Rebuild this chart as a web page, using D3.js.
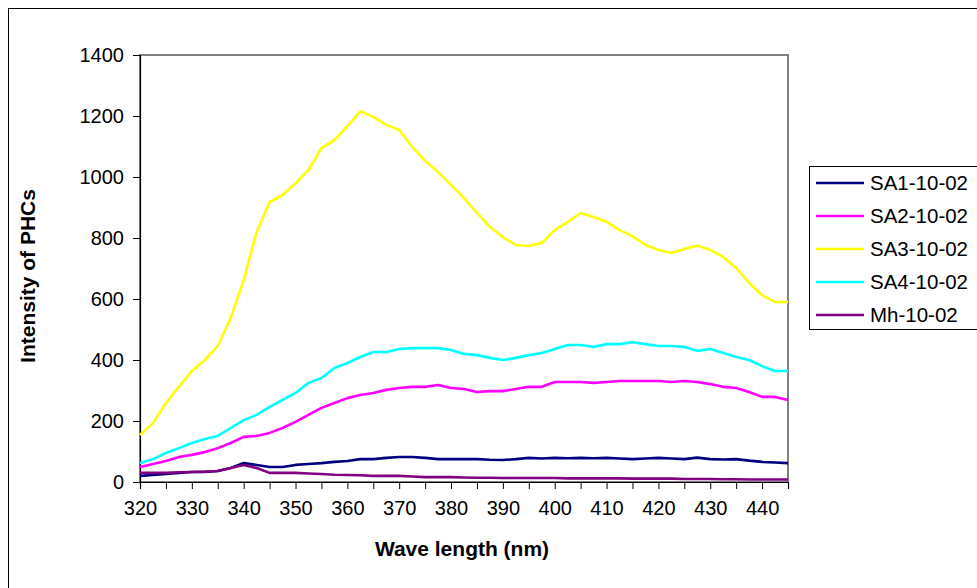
<!DOCTYPE html>
<html><head><meta charset="utf-8">
<script src="https://cdn.jsdelivr.net/npm/d3@7/dist/d3.min.js"></script>
<style>
html,body{margin:0;padding:0;background:#fff;}
svg{display:block;font-family:Arial,"Liberation Sans",sans-serif;}
</style></head>
<body><svg id="c" width="977" height="588"></svg>
<script>
const wavelengths = [320,322.5,325,327.5,330,332.5,335,337.5,340,342.5,345,347.5,350,352.5,355,357.5,360,362.5,365,367.5,370,372.5,375,377.5,380,382.5,385,387.5,390,392.5,395,397.5,400,402.5,405,407.5,410,412.5,415,417.5,420,422.5,425,427.5,430,432.5,435,437.5,440,442.5,445];
const sa1 = [20,23,26,30,33,33,36,46,62,56,49,49,56,59,62,66,69,75,75,79,82,82,79,75,75,75,75,73,72,75,79,77,79,78,79,78,79,77,75,77,79,77,75,80,75,74,75,70,66,64,62];
const sa2 = [49,59,69,82,89,98,111,128,148,151,161,177,197,220,243,259,275,285,292,302,308,312,312,318,308,305,295,298,298,305,312,312,328,328,328,325,328,331,331,331,331,328,331,328,321,312,308,295,279,279,269];
const sa3 = [154,193,259,312,364,400,446,538,662,820,918,941,980,1023,1095,1121,1167,1215,1197,1171,1154,1099,1053,1016,974,931,882,836,803,777,774,784,826,853,882,869,853,826,806,777,761,751,764,775,761,738,702,653,613,590,590];
const sa4 = [62,75,95,111,128,141,151,177,203,220,246,269,292,325,341,374,390,410,426,426,436,439,439,439,433,420,416,407,400,407,416,423,436,449,449,443,452,452,458,452,446,446,443,430,436,423,410,400,380,364,364];
const mh  = [30,30,30,32,33,34,36,46,56,46,30,30,30,28,26,24,23,22,20,20,20,18,16,16,16,15,14,14,13,13,13,13,13,12,12,12,12,12,11,11,11,11,10,10,10,9,9,8,8,8,8];
const seriesNames = ["SA1-10-02","SA2-10-02","SA3-10-02","SA4-10-02","Mh-10-02"];
const seriesColors = ["#000080","#FF00FF","#FFFF00","#00FFFF","#800080"];
const seriesValues = [sa1,sa2,sa3,sa4,mh];
const yTicks = [0,200,400,600,800,1000,1200,1400];
const xTickValues = [320,325,330,335,340,345,350,355,360,365,370,375,380,385,390,395,400,405,410,415,420,425,430,435,440,445];
const xLabelValues = [320,330,340,350,360,370,380,390,400,410,420,430,440];

const svg = d3.select("#c");
const L=140, R=788, T=55, B=482;
const x = d3.scaleLinear().domain([320,445]).range([L,R]);
const y = d3.scaleLinear().domain([0,1400]).range([B,T]);

// outer chart border
svg.append("rect").attr("x",8.5).attr("y",8.5).attr("width",1000).attr("height",1000)
  .attr("fill","none").attr("stroke","#000").attr("stroke-width",1);

// plot area border
svg.append("rect").attr("x",L).attr("y",T).attr("width",R-L).attr("height",B-T)
  .attr("fill","none").attr("stroke","#808080").attr("stroke-width",2);

// y axis
const yAxis = svg.append("g").attr("transform",`translate(${L},0)`)
  .call(d3.axisLeft(y).tickValues(yTicks).tickSize(7).tickPadding(9).tickFormat(d3.format("d")));
yAxis.select(".domain").attr("stroke","#000").attr("stroke-width",1.2);
yAxis.selectAll("line").attr("stroke","#000");
yAxis.selectAll("text").attr("font-size",20).attr("fill","#000").attr("font-family","Arial,'Liberation Sans',sans-serif");

// x axis
const xAxis = svg.append("g").attr("transform",`translate(0,${B})`)
  .call(d3.axisBottom(x).tickValues(xTickValues).tickSize(7).tickPadding(12)
    .tickFormat(d => xLabelValues.includes(d) ? d : ""));
xAxis.select(".domain").attr("stroke","#000").attr("stroke-width",1.2);
xAxis.selectAll("line").attr("stroke","#000");
xAxis.selectAll("text").attr("font-size",20).attr("fill","#000").attr("font-family","Arial,'Liberation Sans',sans-serif");

// lines
const line = d3.line().x((d,i)=>x(wavelengths[i])).y(d=>y(d));
seriesValues.forEach((vals,k)=>{
  svg.append("path").datum(vals).attr("d",line).attr("fill","none")
    .attr("stroke",seriesColors[k]).attr("stroke-width",2.6).attr("stroke-linejoin","round");
});

// axis titles
svg.append("text").attr("x",462).attr("y",556).attr("text-anchor","middle")
  .attr("font-size",21).attr("font-weight","bold").text("Wave length (nm)");
svg.append("text").attr("transform","translate(35,276) rotate(-90)").attr("text-anchor","middle")
  .attr("font-size",21).attr("font-weight","bold").text("Intensity of PHCs");

// legend
const lg = svg.append("g");
lg.append("rect").attr("x",809.5).attr("y",166.5).attr("width",170).attr("height",163)
  .attr("fill","#fff").attr("stroke","#000").attr("stroke-width",1);
seriesNames.forEach((n,k)=>{
  const yy = 183 + k*33;
  lg.append("line").attr("x1",816).attr("x2",864).attr("y1",yy).attr("y2",yy)
    .attr("stroke",seriesColors[k]).attr("stroke-width",2.6);
  lg.append("text").attr("x",870).attr("y",yy+7).attr("font-size",20.5).text(n);
});
</script></body></html>
